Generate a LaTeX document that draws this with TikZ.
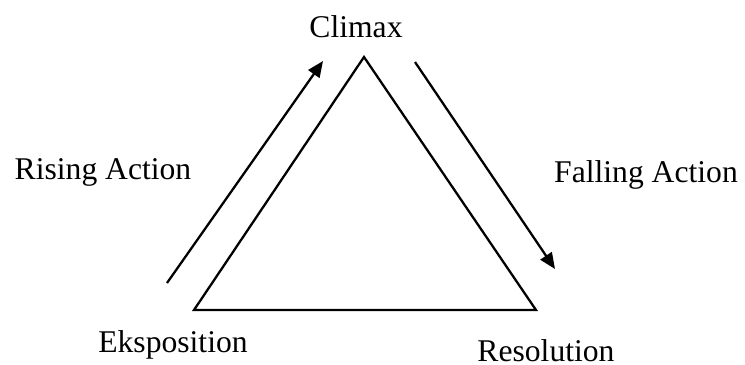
\documentclass[tikz,border=0pt]{standalone}
\usepackage{fontspec}
\setmainfont{Liberation Serif}
\usetikzlibrary{arrows.meta}

\begin{document}
\begin{tikzpicture}[
	x=0.02cm, y=-0.02cm,
	stagelabel/.style={ anchor=base, inner sep=0pt, font=\fontsize{18}{22}\selectfont },
	plotline/.style={ line width=1.3pt },
	actionarrow/.style={ line width=1.3pt, -{Triangle[length=0.32cm, width=0.27cm]} }
]
	\useasboundingbox (0,0) rectangle (745,365);

	% corners of the plot triangle
	\coordinate (climax) at (364,57);
	\coordinate (exposition) at (194,310);
	\coordinate (resolution) at (536,310);
	\draw[plotline, line join=miter] (climax) -- (resolution) -- (exposition) -- cycle;

	% arrow ends
	\coordinate (risestart) at (167,283);
	\coordinate (riseend) at (323,61);
	\coordinate (fallstart) at (415,62);
	\coordinate (fallend) at (555,269);
	\draw[actionarrow] (risestart) -- (riseend);
	\draw[actionarrow] (fallstart) -- (fallend);

	\node[stagelabel] (climaxlabel) at (356,37) {Climax};
	\node[stagelabel] (risinglabel) at (103,179) {Rising Action};
	\node[stagelabel] (fallinglabel) at (646,182) {Falling Action};
	\node[stagelabel] (expositionlabel) at (173,352) {Eksposition};
	\node[stagelabel] (resolutionlabel) at (546,361) {Resolution};

\end{tikzpicture}
\end{document}
